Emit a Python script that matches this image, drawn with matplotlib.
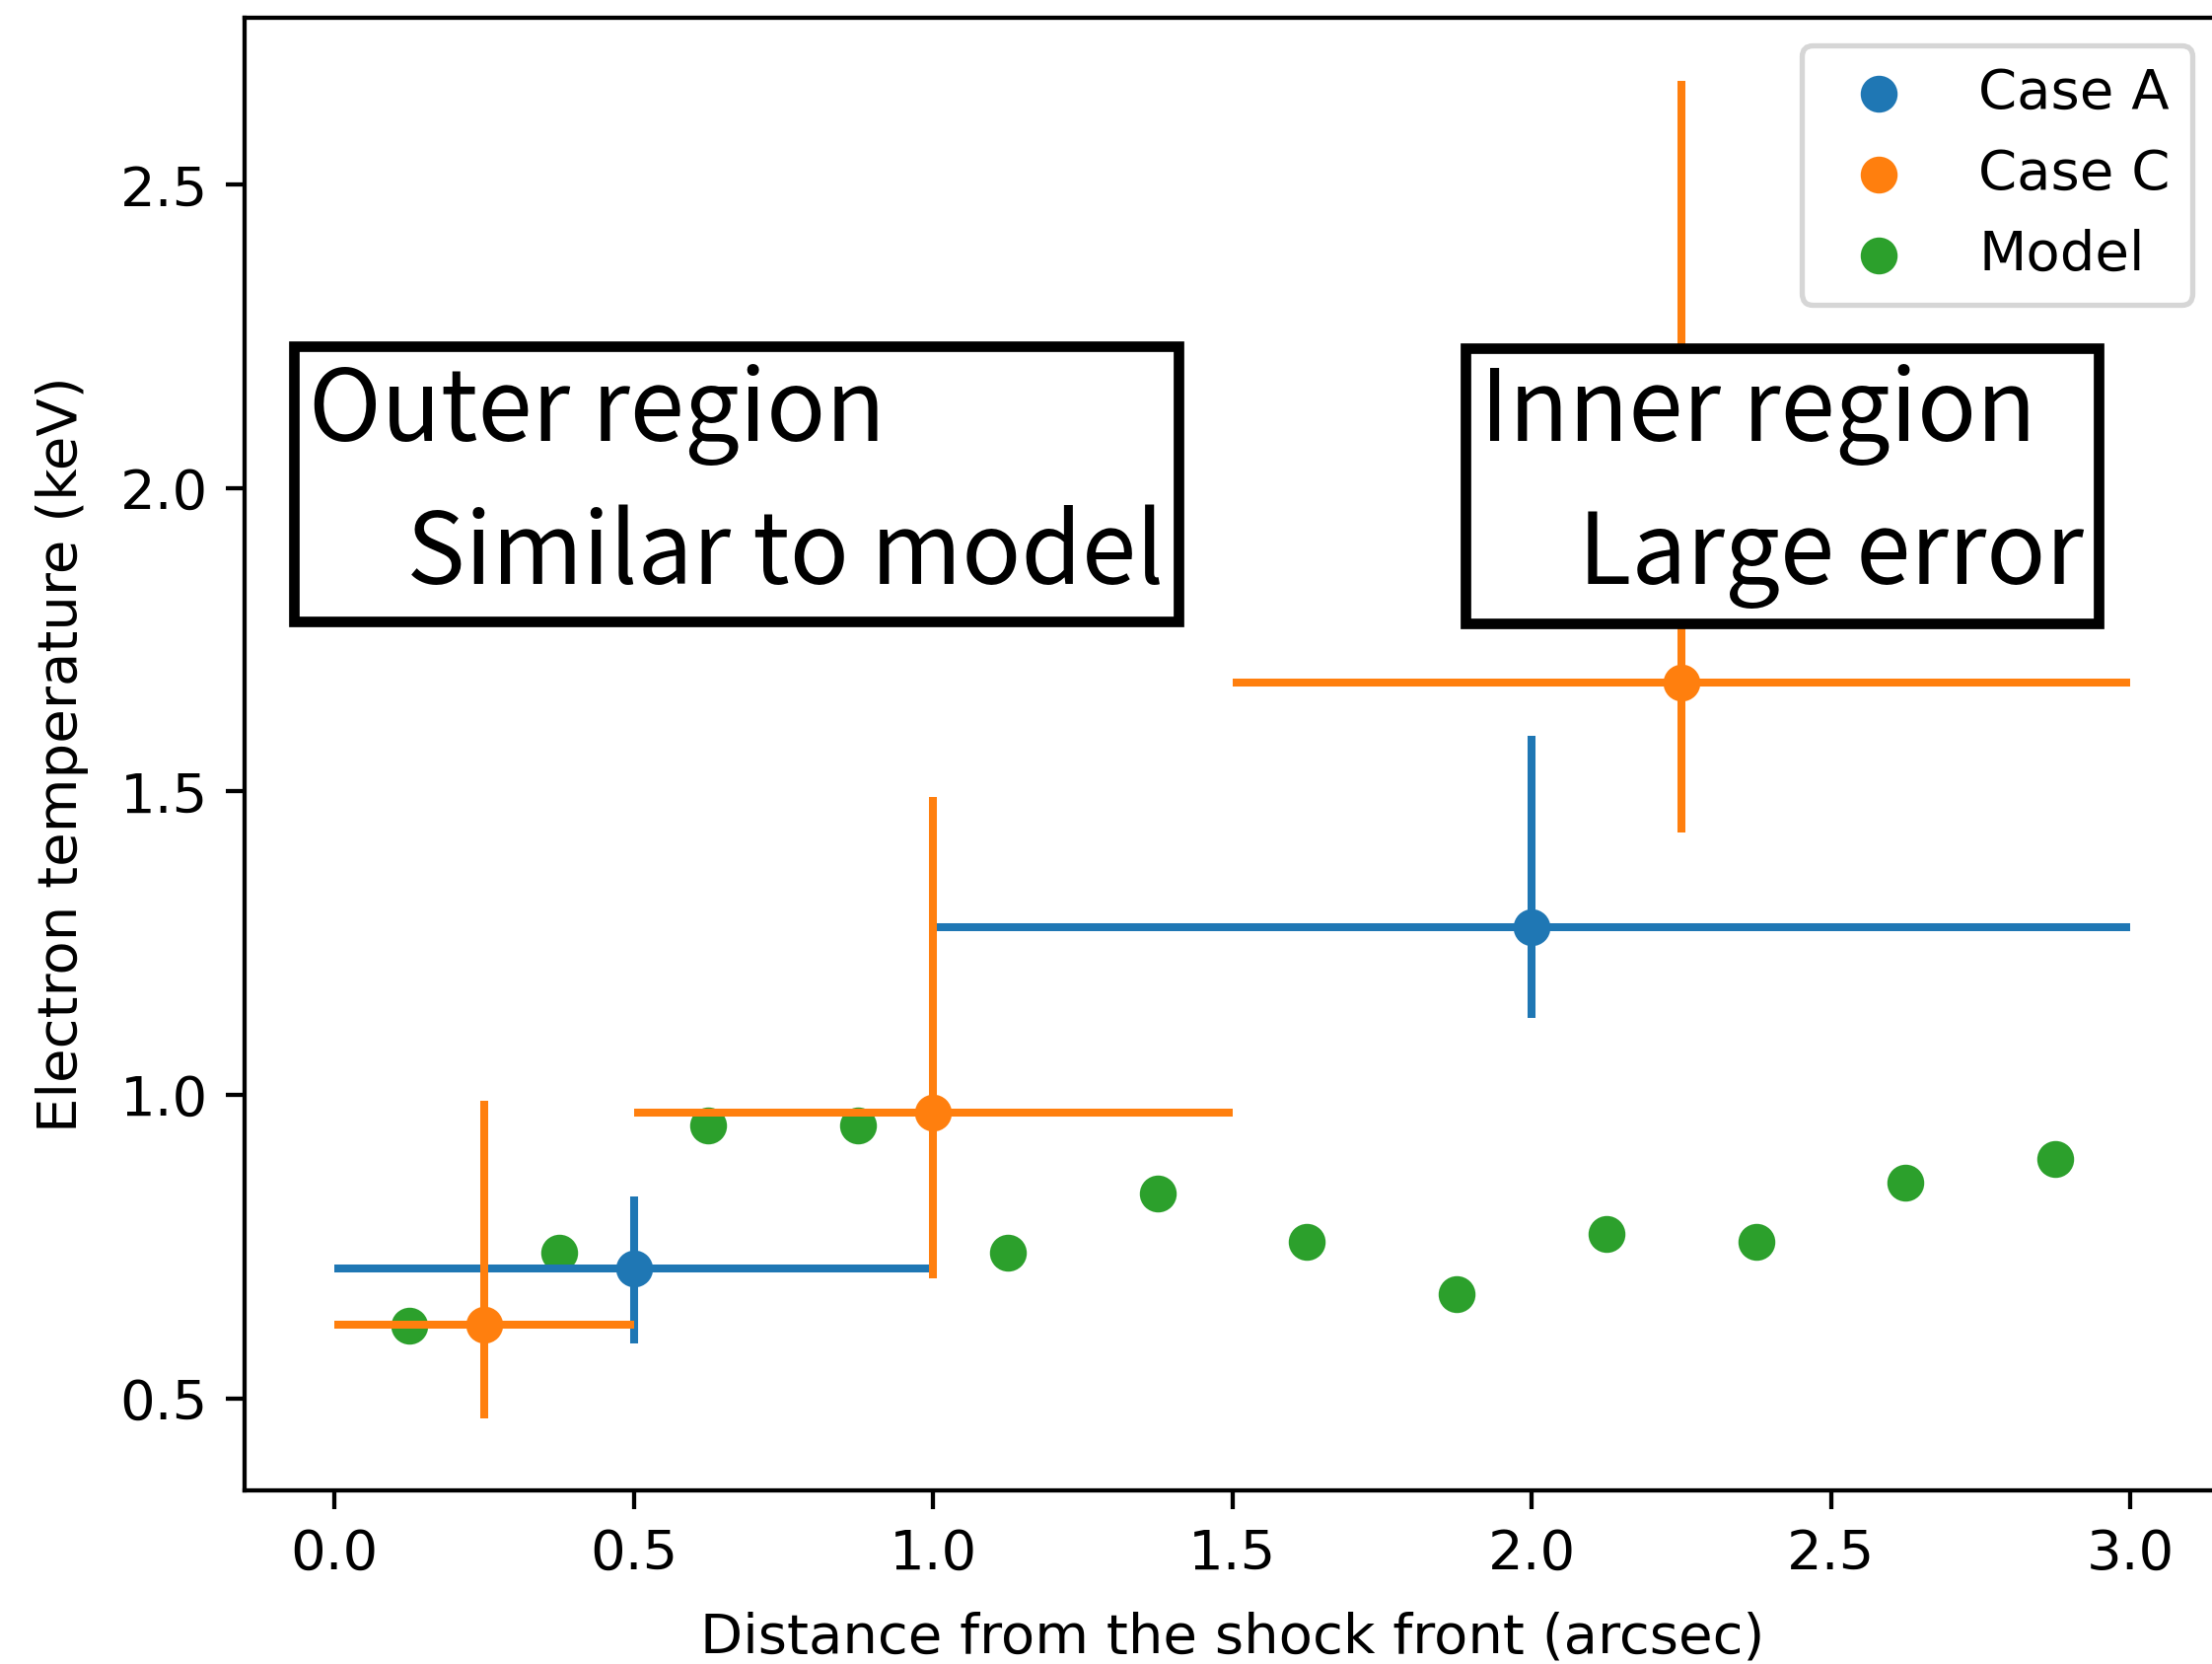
import numpy as np
import matplotlib
matplotlib.use("Agg")
import matplotlib.pyplot as plt

# Case A fits
a_x = [0.5, 2.0]
a_y = [0.714, 1.277]
a_xerr = [0.5, 1.0]
a_yerr_lo = [0.123, 0.151]
a_yerr_hi = [0.119, 0.314]

# Case C fits
c_x = [0.25, 1.0, 2.25]
c_y = [0.621, 0.970, 1.679]
c_xerr = [0.25, 0.5, 0.75]
c_yerr_lo = [0.154, 0.272, 0.246]
c_yerr_hi = [0.370, 0.521, 0.993]

# model profile
m_x = [0.125, 0.375, 0.625, 0.875, 1.125, 1.375, 1.625, 1.875, 2.125, 2.375, 2.625, 2.875]
m_y = [0.619, 0.740, 0.949, 0.949, 0.740, 0.837, 0.758, 0.672, 0.770, 0.758, 0.856, 0.895]

plt.rcParams['font.size'] = 10.5

dpi = 385
fig = plt.figure(figsize=(2243 / dpi, 1687 / dpi), dpi=dpi)
ax = fig.add_axes([0.1106, 0.1043, 0.8930, 0.8853])

ax.scatter(a_x, a_y, label='Case A')
ax.scatter(c_x, c_y, label='Case C')
ax.scatter(m_x, m_y, label='Model')

ax.errorbar(a_x, a_y, xerr=a_xerr, yerr=[a_yerr_lo, a_yerr_hi], fmt='none', ecolor='C0')
ax.errorbar(c_x, c_y, xerr=c_xerr, yerr=[c_yerr_lo, c_yerr_hi], fmt='none', ecolor='C1')

ax.set_xlim(-0.15, 3.15)
ax.set_ylim(0.348, 2.776)
ax.set_xlabel('Distance from the shock front (arcsec)', labelpad=5.8)
ax.set_ylabel('Electron temperature (keV)', labelpad=5.8)
ax.legend(loc='upper right')

box = dict(boxstyle='square,pad=0.15', facecolor='white', edgecolor='black', linewidth=2)
jp = ['Noto Sans CJK JP', 'DejaVu Sans']
ax.text(-0.043, 2.206, 'Outer region\n\u3000Similar to model', fontsize=18.6,
        family=jp, ha='left', va='top', linespacing=1.5, bbox=box, zorder=5)
ax.text(1.914, 2.206, 'Inner region\n\u3000Large error', fontsize=18.6,
        family=jp, ha='left', va='top', linespacing=1.5, bbox=box, zorder=5)

fig.savefig('out.png', dpi=dpi)
